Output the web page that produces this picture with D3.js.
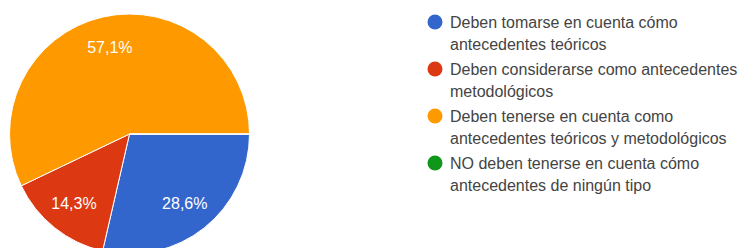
<!DOCTYPE html>
<meta charset="utf-8">
<style>
  body { margin: 0; background: #fff; }
  text { font-family: Arial, "Liberation Sans", sans-serif; }
</style>
<body>
<script src="https://d3js.org/d3.v7.min.js"></script>
<script>
var width = 740,
    height = 248;

// data
var categories = [
  ["Deben tomarse en cuenta cómo", "antecedentes teóricos"],
  ["Deben considerarse como antecedentes", "metodológicos"],
  ["Deben tenerse en cuenta como", "antecedentes teóricos y metodológicos"],
  ["NO deben tenerse en cuenta cómo", "antecedentes de ningún tipo"]
];
var values = [28.6, 14.3, 57.1, 0];
var labels = ["28,6%", "14,3%", "57,1%", ""];
var colors = ["#3366cc", "#dc3912", "#ff9900", "#109618"];

var cx = 129.5, cy = 134, radius = 120;

var svg = d3.select("body").append("svg")
    .attr("width", width)
    .attr("height", height);

var pie = d3.pie()
    .sort(null)
    .startAngle(Math.PI / 2)
    .endAngle(Math.PI / 2 + 2 * Math.PI);

var arc = d3.arc().innerRadius(0).outerRadius(radius);
var labelArc = d3.arc().innerRadius(radius * 0.74).outerRadius(radius * 0.74);

var g = svg.append("g").attr("transform", "translate(" + cx + "," + cy + ")");

var slices = pie(values);

g.selectAll("path")
  .data(slices)
  .enter()
  .append("path")
  .attr("d", arc)
  .attr("fill", function(d, i) { return colors[i]; })
  .attr("stroke", "#fff")
  .attr("stroke-width", 1);

g.selectAll("text")
  .data(slices.filter(function(d) { return d.value > 0; }))
  .enter()
  .append("text")
  .attr("transform", function(d) { return "translate(" + labelArc.centroid(d) + ")"; })
  .attr("text-anchor", "middle")
  .attr("dy", "0.35em")
  .attr("fill", "#fff")
  .style("font-size", "16px")
  .text(function(d) { return labels[d.index]; });

// legend
var legend = svg.append("g").attr("transform", "translate(435,22)");

var items = legend.selectAll("g")
  .data(categories)
  .enter()
  .append("g")
  .attr("transform", function(d, i) { return "translate(0," + (i * 47) + ")"; });

items.append("circle")
  .attr("r", 7.5)
  .attr("fill", function(d, i) { return colors[i]; });

items.each(function(lines) {
  var t = d3.select(this).append("text")
    .attr("x", 15)
    .attr("fill", "#444")
    .style("font-size", "16px");
  lines.forEach(function(line, j) {
    t.append("tspan")
      .attr("x", 15)
      .attr("y", j * 22)
      .attr("dy", "0.35em")
      .text(line);
  });
});
</script>
</body>
